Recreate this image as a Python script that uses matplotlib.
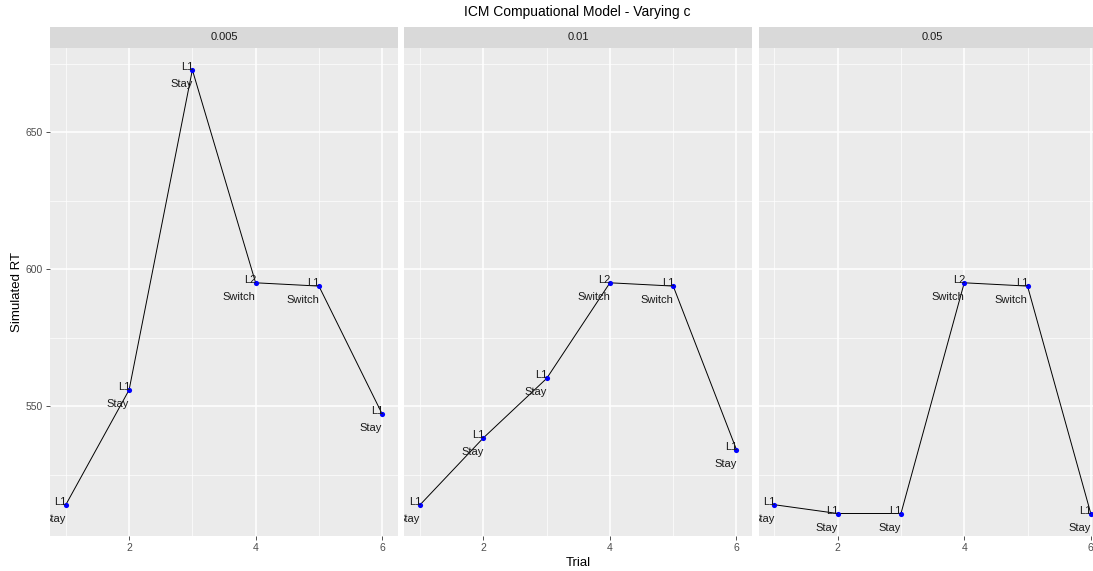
import matplotlib
matplotlib.use("Agg")
import matplotlib.pyplot as plt
from matplotlib.ticker import MultipleLocator

plt.rcParams['font.family'] = ['Liberation Sans', 'DejaVu Sans']

trials = [1, 2, 3, 4, 5, 6]
c_values = ['0.005', '0.01', '0.05']
rt_c005 = [514.1, 556.0, 672.8, 595.1, 593.9, 547.2]
rt_c01 = [514.1, 538.5, 560.2, 595.1, 593.9, 534.2]
rt_c05 = [514.1, 510.9, 510.9, 595.1, 593.9, 510.9]
locations = ['L1', 'L1', 'L1', 'L2', 'L1', 'L1']
trial_types = ['Stay', 'Stay', 'Stay', 'Switch', 'Switch', 'Stay']

series = [rt_c005, rt_c01, rt_c05]

W, H = 1093, 571
fig = plt.figure(figsize=(W / 100, H / 100), dpi=100)

# panel geometry in pixels (third panel runs past the right edge, as in the reference)
panel_left = [50, 404.3, 758.6]
panel_w = 348
panel_bottom = 35.3
panel_h = 488
strip_h = 20.7

for i, (c, rt) in enumerate(zip(c_values, series)):
    ax = fig.add_axes([panel_left[i] / W, panel_bottom / H, panel_w / W, panel_h / H])
    ax.set_facecolor('#EBEBEB')
    for s in ax.spines.values():
        s.set_visible(False)
    ax.set_xlim(0.75, 6.25)
    ax.set_ylim(502.8, 680.9)
    ax.xaxis.set_major_locator(MultipleLocator(2))
    ax.xaxis.set_minor_locator(MultipleLocator(1))
    ax.yaxis.set_major_locator(MultipleLocator(50))
    ax.yaxis.set_minor_locator(MultipleLocator(25))
    ax.grid(which='major', color='white', linewidth=1.1)
    ax.grid(which='minor', color='white', linewidth=0.5)
    ax.set_axisbelow(True)
    ax.tick_params(which='minor', length=0)
    ax.tick_params(which='major', length=3, width=0.6, color='#333333',
                   labelsize=7.5, labelcolor='#4D4D4D', pad=2)
    if i > 0:
        ax.tick_params(axis='y', which='both', left=False, labelleft=False)

    ax.plot(trials, rt, color='black', linewidth=0.7, zorder=3)
    ax.scatter(trials, rt, color='blue', s=14, zorder=4, linewidths=0)
    for t, v, loc, tt in zip(trials, rt, locations, trial_types):
        ax.annotate(loc, (t, v), xytext=(1, 3), textcoords='offset pixels',
                    ha='right', va='center', fontsize=8, color='#1A1A1A',
                    clip_on=True, zorder=5)
        ax.annotate(tt, (t, v), xytext=(0, -14), textcoords='offset pixels',
                    ha='right', va='center', fontsize=8, color='#1A1A1A',
                    clip_on=True, zorder=5)

    # facet strip
    sax = fig.add_axes([panel_left[i] / W, (panel_bottom + panel_h) / H,
                        panel_w / W, strip_h / H])
    sax.set_facecolor('#D9D9D9')
    sax.set_xticks([])
    sax.set_yticks([])
    for s in sax.spines.values():
        s.set_visible(False)
    sax.text(0.5, 0.5, c, ha='center', va='center', fontsize=8,
             color='#1A1A1A', transform=sax.transAxes)

fig.text(577 / W, 1 - 12 / H, 'ICM Compuational Model - Varying c',
         ha='center', va='center', fontsize=10)
fig.text(578 / W, 1 - 563 / H, 'Trial', ha='center', va='center', fontsize=9.5)
fig.text(17 / W, 1 - 292 / H, 'Simulated RT', ha='center', va='center',
         rotation=90, fontsize=9.5)

fig.savefig('out.png', dpi=100)
